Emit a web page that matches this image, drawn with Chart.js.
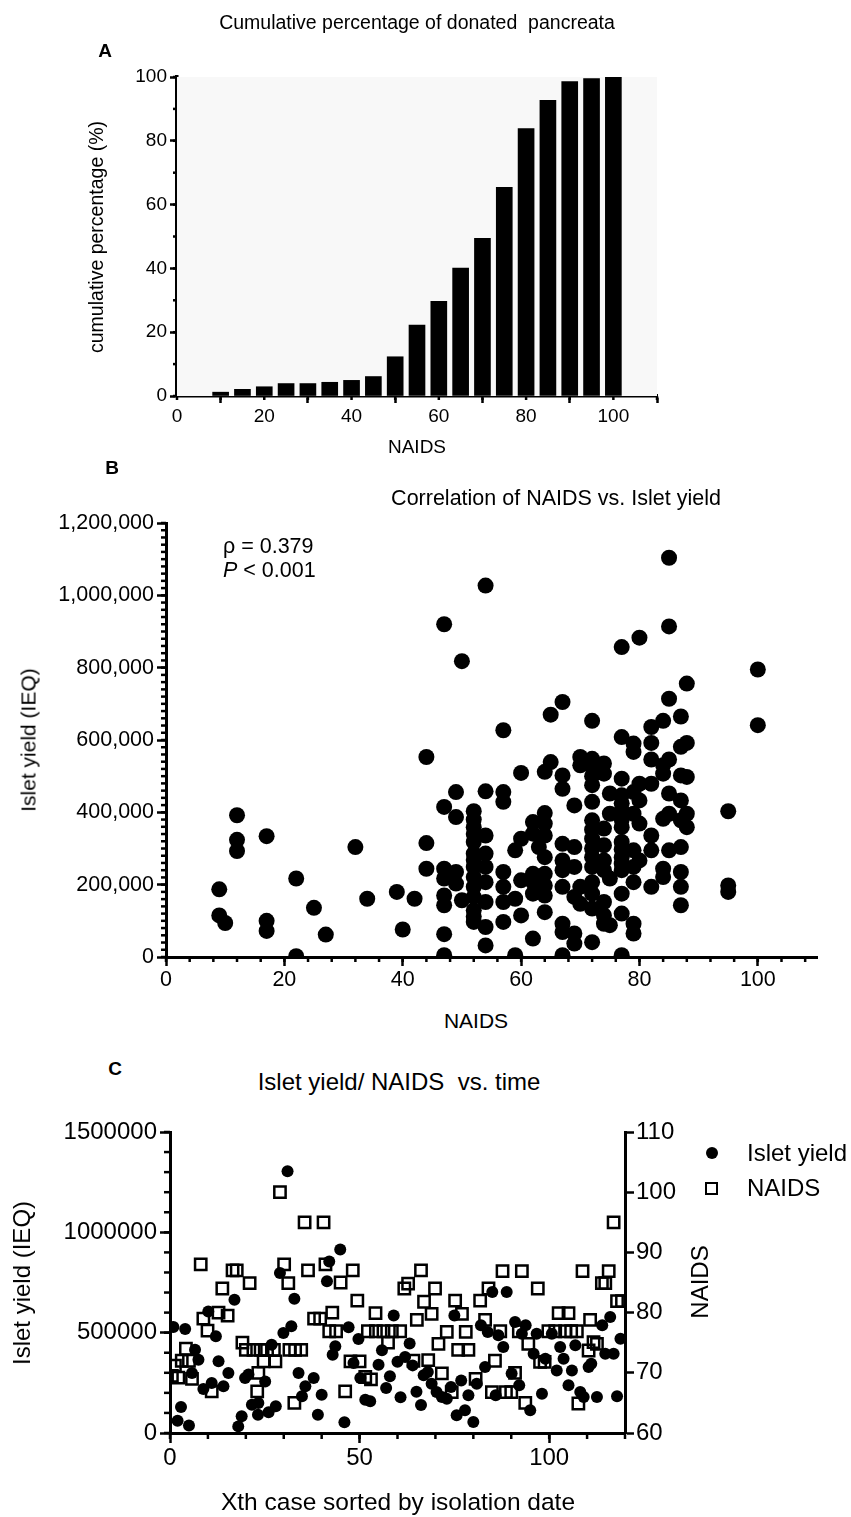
<!DOCTYPE html>
<html>
<head>
<meta charset="utf-8">
<script src="https://cdn.jsdelivr.net/npm/chart.js@4.4.0/dist/chart.umd.min.js"></script>
<style>
  body { margin: 0; background: #fff; }
  #page { position: relative; width: 851px; height: 1517px; overflow: hidden; font-family: "Liberation Sans", Arial, Helvetica, sans-serif; color: #000; }
  canvas { position: absolute; left: 0; }
  .t { position: absolute; white-space: nowrap; transform: translate(-50%, -50%); line-height: 1; }
  .l { position: absolute; white-space: nowrap; transform: translateY(-50%); line-height: 1; }
  .r { position: absolute; white-space: nowrap; transform: translate(-50%, -50%) rotate(-90deg); line-height: 1; }
  .b { font-weight: bold; }
</style>
</head>
<body>
<div id="page">
  <canvas id="chartA" width="851" height="480" style="top:0"></canvas>
  <canvas id="chartB" width="851" height="520" style="top:480px"></canvas>
  <canvas id="chartC" width="851" height="417" style="top:1100px"></canvas>

  <!-- panel A texts -->
  <div class="t" style="left:417px;top:23px;font-size:19.5px">Cumulative percentage of donated&nbsp; pancreata</div>
  <div class="t b" style="left:105px;top:50px;font-size:19px">A</div>
  <div class="r" style="left:97px;top:237px;font-size:19.5px">cumulative percentage (%)</div>
  <div class="t" style="left:417px;top:446px;font-size:19px">NAIDS</div>

  <!-- panel B texts -->
  <div class="t b" style="left:112px;top:467px;font-size:19px">B</div>
  <div class="t" style="left:556px;top:499px;font-size:21.5px">Correlation of NAIDS vs. Islet yield</div>
  <div class="l" style="left:223px;top:547px;font-size:21.5px">ρ = 0.379</div>
  <div class="l" style="left:223px;top:571px;font-size:21.5px"><i>P</i> &lt; 0.001</div>
  <div class="r" style="left:28px;top:740px;font-size:21px">Islet yield (IEQ)</div>
  <div class="t" style="left:476px;top:1020px;font-size:21px">NAIDS</div>

  <!-- panel C texts -->
  <div class="t b" style="left:115px;top:1068px;font-size:19px">C</div>
  <div class="t" style="left:399px;top:1082px;font-size:24px">Islet yield/ NAIDS&nbsp; vs. time</div>
  <div class="r" style="left:22px;top:1283px;font-size:24px">Islet yield (IEQ)</div>
  <div class="r" style="left:700px;top:1282px;font-size:24px">NAIDS</div>
  <div class="t" style="left:398px;top:1502px;font-size:24.5px">Xth case sorted by isolation date</div>
  <div style="position:absolute;left:706px;top:1147px;width:12px;height:12px;border-radius:50%;background:#000"></div>
  <div class="l" style="left:747px;top:1153px;font-size:24px">Islet yield</div>
  <div style="position:absolute;left:705px;top:1182px;width:9px;height:9px;border:2.5px solid #000"></div>
  <div class="l" style="left:747px;top:1188px;font-size:24px">NAIDS</div>
</div>

<script>
const FONT = '"Liberation Sans", Arial, Helvetica, sans-serif';

// ---- Panel A: cumulative percentage by NAIDS bin
const binsA = [10, 15, 20, 25, 30, 35, 40, 45, 50, 55, 60, 65, 70, 75, 80, 85, 90, 95, 100];
const cumPctA = [1.2, 2.1, 2.9, 3.9, 3.9, 4.3, 4.9, 6.1, 12.3, 22.2, 29.7, 40.1, 49.4, 65.4, 83.8, 92.7, 98.6, 99.5, 100];
const xTicksA = [0, 20, 40, 60, 80, 100];
const yTicksA = [0, 20, 40, 60, 80, 100];

// ---- Panel B: NAIDS vs islet yield (yield in thousands IEQ)
const naidsB = [9, 9, 10, 12, 12, 12, 17, 17, 17, 22, 22, 25, 27, 32, 34, 39, 40, 42, 44, 44, 44,
  85, 54, 47, 85, 80, 77, 50, 100, 88, 85, 67, 65, 100, 72, 87, 57, 84, 82, 77, 82, 79, 79, 88, 87, 82, 85,
  70, 70, 72, 72, 74, 74, 65, 64, 60, 67, 67, 77, 84, 84, 87, 88, 80, 82, 49, 54, 57, 57, 75, 77, 79, 85, 87,
  47, 49, 52, 69, 72, 80, 64, 75, 77, 79, 85, 84, 88, 95, 62, 52, 54, 60, 64, 72, 74, 77, 80, 82, 88, 87,
  52, 62, 64, 67, 69, 72, 74, 77, 79, 82, 85, 87, 52, 54, 59, 63, 64, 67, 72, 74, 77, 80,
  47, 49, 52, 52, 54, 57, 60, 62, 64, 67, 69, 72, 74, 77, 79, 79, 84, 87,
  47, 49, 52, 54, 57, 62, 64, 67, 70, 72, 75, 82, 84, 87, 95, 95,
  47, 47, 50, 52, 52, 54, 57, 59, 62, 64, 69, 70, 72, 72, 74, 77, 87,
  52, 54, 57, 60, 64, 67, 67, 69, 69, 74, 74, 75, 77, 79, 79, 47, 54, 62, 72, 47, 59, 67, 77,
  72, 72, 72, 72, 52, 52, 52, 52, 77, 77, 77, 77];
const yieldBk = [187, 115, 94, 392, 324, 293, 334, 100, 72, 217, 2, 136, 62, 304, 161, 180, 76, 161, 553, 315, 244,
  1104, 1027, 920, 914, 883, 857, 818, 795, 756, 714, 705, 670, 641, 653, 665, 627, 653, 636, 608, 592, 590, 567, 592, 581, 546, 546,
  553, 530, 548, 525, 535, 507, 539, 512, 509, 502, 465, 493, 507, 530, 502, 498, 479, 479, 456, 458, 456, 429, 452, 447, 456, 452, 433,
  415, 387, 403, 419, 429, 433, 398, 396, 405, 396, 396, 382, 396, 403, 373, 359, 336, 327, 369, 378, 355, 359, 369, 336, 359, 378,
  318, 341, 336, 313, 304, 327, 309, 318, 295, 295, 295, 304, 286, 286, 295, 304, 276, 267, 276, 267, 276, 267,
  244, 235, 249, 221, 249, 235, 212, 230, 230, 240, 249, 249, 240, 240, 249, 207, 244, 235,
  217, 203, 194, 207, 194, 207, 198, 194, 194, 207, 217, 194, 221, 194, 198, 180,
  170, 143, 157, 166, 129, 152, 152, 161, 175, 170, 166, 147, 175, 134, 152, 175, 143,
  97, 83, 97, 115, 124, 92, 69, 65, 37, 115, 92, 88, 120, 92, 65, 63, 32, 51, 41, 5, 5, 5, 5,
  475, 500, 300, 352, 380, 340, 268, 112, 425, 380, 298, 258];
const yieldB = yieldBk.map(v => v * 1000);
const xTicksB = [0, 20, 40, 60, 80, 100];
const yTicksB = [0, 200000, 400000, 600000, 800000, 1000000, 1200000];

// ---- Panel C: islet yield and NAIDS by case order
const caseYieldC = [0.9, 2, 2.9, 4, 5, 5.8, 6.6, 7.5, 8.8, 10.1, 11, 12.1, 12.8, 14.1, 15.4, 17, 18, 18.9, 19.8, 20.7,
  21.6, 23.2, 23.3, 25.1, 26, 26.8, 27.9, 29, 29.9, 31, 32, 32.8, 33.9, 34.8, 35.7, 37.9, 39, 40, 41.4, 42,
  42.9, 43.6, 44.9, 46, 47.1, 48.4, 49.7, 50.2, 51.5, 52.8, 55, 55.9, 57, 58, 59, 60, 60.8, 62, 63.2, 64,
  65, 66.2, 66.9, 68, 69, 70.3, 71.7, 73, 74.1, 75, 75.6, 76.8, 77.8, 78.7, 80, 80.9, 82, 83.1, 83.8, 85,
  85.9, 86.6, 87.9, 88.8, 90.1, 91, 92.1, 92.8, 93.8, 95, 95.9, 96.7, 98.1, 99, 100.7, 102, 102.9, 103.8, 105.1, 106,
  106.9, 108.2, 109.1, 110.4, 111.1, 112.6, 114, 114.8, 116.1, 117, 117.9, 118.8];
const yieldCk = [528, 61, 130, 518, 37, 299, 415, 365, 219, 606, 249, 482, 357, 233, 299, 664, 33, 83, 274, 291,
  141, 91, 150, 257, 103, 440, 133, 797, 498, 1304, 532, 669, 299, 183, 233, 274, 91, 191, 756, 855,
  390, 432, 914, 53, 527, 349, 468, 274, 166, 158, 340, 412, 224, 283, 585, 355, 178, 379, 446, 337,
  205, 139, 288, 304, 246, 204, 179, 171, 229, 586, 88, 262, 113, 188, 55, 246, 537, 329, 503, 703,
  188, 487, 429, 703, 296, 553, 238, 495, 537, 113, 395, 495, 196, 370, 495, 312, 429, 370, 238, 312,
  437, 204, 179, 329, 345, 179, 537, 395, 578, 395, 183, 470];
const yieldC = yieldCk.map(v => v * 1000);
const caseNaidsC = [0.5, 1.3, 2.2, 3.1, 4.2, 5, 5.8, 8.1, 8.8, 9.9, 11, 12.8, 13.8, 15.2, 16.5, 17.6, 19.1, 20, 21, 22,
  23, 23.3, 23.9, 24.7, 25.6, 27.4, 27.8, 29, 30.1, 31.2, 31.5, 32.8, 33, 34.6, 35.5, 36.4, 38, 39.6, 40.5, 41,
  42.8, 42, 43.8, 45, 46.2, 47.6, 48.2, 49.4, 50, 51.5, 52.2, 53, 54.2, 54.3, 56.3, 57.5, 58.5, 60.7, 61.8, 62.8,
  64.2, 65.1, 66.2, 67, 68.1, 69, 69.9, 70.8, 71.7, 73, 74.3, 75.2, 76, 77, 78, 78.7, 80.6, 81.8, 83.1, 84,
  84.9, 85.7, 87.1, 87.7, 88.6, 90, 91, 92, 92.8, 93.7, 94.5, 97, 97.6, 98.8, 99.8, 101.6, 102.5, 104.2, 105.1, 105.8,
  107.3, 107.7, 108.8, 110.4, 110.8, 111.7, 112.6, 113.9, 114.8, 115.7, 117, 117.9, 119.2];
const naidsC = [69.5, 71.2, 69.2, 72, 74, 72, 69, 88, 79, 77, 66.9, 80, 84, 79.5, 87, 87, 75, 73.8, 84.9, 73.8,
  66.9, 70, 73.8, 71.9, 73.8, 73.8, 71.9, 100, 88, 84.9, 73.8, 65, 73.8, 73.8, 95, 87, 79, 79, 95, 88,
  80, 76.9, 76.9, 85, 66.9, 71.9, 87, 82, 71.9, 69.3, 76.9, 68.9, 79.9, 76.9, 76.9, 75, 76.9, 76.9, 84, 84.8,
  72, 78.8, 87, 81.8, 72.1, 79.8, 84, 74.8, 69.9, 76.8, 66.8, 82, 73.8, 79.8, 76.8, 73.8, 69, 82, 78.8, 84,
  66.8, 72, 76.9, 86.9, 66.8, 66.8, 70, 76.9, 86.9, 65, 74.8, 84, 71.8, 71.8, 76.9, 76.9, 79.9, 76.9, 79.9, 76.9,
  76.9, 64.9, 86.9, 73.7, 78.8, 75.1, 74.8, 84.9, 84.9, 86.9, 95, 81.9, 81.9];
const xTicksC = [0, 50, 100];
const yTicksC = [0, 500000, 1000000, 1500000];
const y2TicksC = [60, 70, 80, 90, 100, 110];

// short minor ticks drawn through the chart's own scales
const minorTicks = {
  id: 'minorTicks',
  afterDraw(chart, args, opts) {
    const ctx = chart.ctx;
    ctx.save();
    ctx.strokeStyle = '#000';
    ctx.lineWidth = opts.width || 2.5;
    (opts.axes || []).forEach(a => {
      const s = chart.scales[a.id];
      for (let v = s.min; v <= s.max + 1e-9; v += a.step) {
        const p = s.getPixelForValue(v);
        ctx.beginPath();
        if (s.isHorizontal()) { ctx.moveTo(p, s.top); ctx.lineTo(p, s.top + a.len); }
        else if (s.position === 'left') { ctx.moveTo(s.right, p); ctx.lineTo(s.right - a.len, p); }
        else { ctx.moveTo(s.left, p); ctx.lineTo(s.left + a.len, p); }
        ctx.stroke();
      }
    });
    ctx.restore();
  }
};

const plotBg = {
  id: 'plotBg',
  beforeDatasetsDraw(chart, args, opts) {
    if (!opts.color) return;
    const a = chart.chartArea;
    chart.ctx.save();
    chart.ctx.fillStyle = opts.color;
    chart.ctx.fillRect(a.left, a.top, a.right - a.left, a.bottom - a.top);
    chart.ctx.restore();
  }
};

function axis(o) {
  return {
    type: 'linear',
    position: o.position,
    min: o.min,
    max: o.max,
    offset: false,
    border: { display: true, color: '#000', width: o.bw || 3 },
    grid: { display: true, drawOnChartArea: false, drawTicks: true, tickLength: o.tl, tickWidth: o.tw || 2.5, tickColor: '#000' },
    ticks: { color: '#000', font: { family: FONT, size: o.fs }, padding: o.pad || 3, autoSkip: false, maxRotation: 0, callback: o.fmt || (v => String(v)) },
    afterBuildTicks: s => { s.ticks = o.majors.map(v => ({ value: v })); },
    afterFit: s => { if (s.isHorizontal()) s.height = o.size; else s.width = o.size; }
  };
}

const common = {
  responsive: false,
  animation: false,
  events: [],
};

// Panel A
new Chart(document.getElementById('chartA'), {
  type: 'bar',
  data: {
    datasets: [{
      data: binsA.map((b, i) => ({ x: b, y: cumPctA[i] })),
      backgroundColor: '#000',
      barThickness: 16
    }]
  },
  options: Object.assign({}, common, {
    layout: { padding: { left: 97, right: 194, top: 77, bottom: 44 } },
    plugins: {
      legend: { display: false }, tooltip: { enabled: false },
      plotBg: { color: '#f8f8f8' },
      minorTicks: { width: 2.5, axes: [{ id: 'x', step: 10, len: 4 }, { id: 'y', step: 10, len: 4 }] }
    },
    scales: {
      x: axis({ position: 'bottom', min: 0, max: 110, majors: xTicksA, fs: 19, tl: 7, size: 40, bw: 3.5, pad: 2 }),
      y: axis({ position: 'left', min: 0, max: 100, majors: yTicksA, fs: 19, tl: 7, size: 80, bw: 3.5 })
    }
  }),
  plugins: [plotBg, minorTicks]
});

// Panel B
new Chart(document.getElementById('chartB'), {
  type: 'scatter',
  data: {
    datasets: [{
      data: naidsB.map((x, i) => ({ x: x, y: yieldB[i] })),
      pointRadius: 8,
      pointBackgroundColor: '#000',
      pointBorderWidth: 0,
      showLine: false
    }]
  },
  options: Object.assign({}, common, {
    layout: { padding: { left: 46, right: 34, top: 43, bottom: 0 } },
    plugins: {
      legend: { display: false }, tooltip: { enabled: false },
      minorTicks: { width: 2.5, axes: [{ id: 'x', step: 4, len: 5 }, { id: 'y', step: 20000, len: 5 }] }
    },
    scales: {
      x: axis({ position: 'bottom', min: 0, max: 110, majors: xTicksB, fs: 21.5, tl: 9, size: 43, pad: 1 }),
      y: axis({ position: 'left', min: 0, max: 1200000, majors: yTicksB, fs: 21.5, tl: 9, size: 120,
        fmt: v => v.toLocaleString('en-US') })
    }
  }),
  plugins: [minorTicks]
});

// Panel C
new Chart(document.getElementById('chartC'), {
  type: 'scatter',
  data: {
    datasets: [{
      label: 'Islet yield',
      data: caseYieldC.map((x, i) => ({ x: x, y: yieldC[i] })),
      yAxisID: 'y',
      order: 1,
      pointRadius: 6,
      pointBackgroundColor: '#000',
      pointBorderWidth: 0
    }, {
      label: 'NAIDS',
      data: caseNaidsC.map((x, i) => ({ x: x, y: naidsC[i] })),
      yAxisID: 'y2',
      order: 0,
      pointStyle: 'rect',
      pointRadius: 8,
      pointBackgroundColor: 'rgba(0,0,0,0)',
      pointBorderColor: '#000',
      pointBorderWidth: 2.5
    }]
  },
  options: Object.assign({}, common, {
    layout: { padding: { left: 30, right: 126, top: 32, bottom: 40 } },
    plugins: {
      legend: { display: false }, tooltip: { enabled: false },
      minorTicks: { width: 2.5, axes: [{ id: 'x', step: 10, len: 6 }, { id: 'y', step: 100000, len: 6 }] }
    },
    scales: {
      x: axis({ position: 'bottom', min: 0, max: 120, majors: xTicksC, fs: 24, tl: 10, size: 44, pad: 1 }),
      y: axis({ position: 'left', min: 0, max: 1500000, majors: yTicksC, fs: 24, tl: 10, size: 140 }),
      y2: axis({ position: 'right', min: 60, max: 110, majors: y2TicksC, fs: 24, tl: 9, size: 100, pad: 2 })
    }
  }),
  plugins: [minorTicks]
});
</script>
</body>
</html>
